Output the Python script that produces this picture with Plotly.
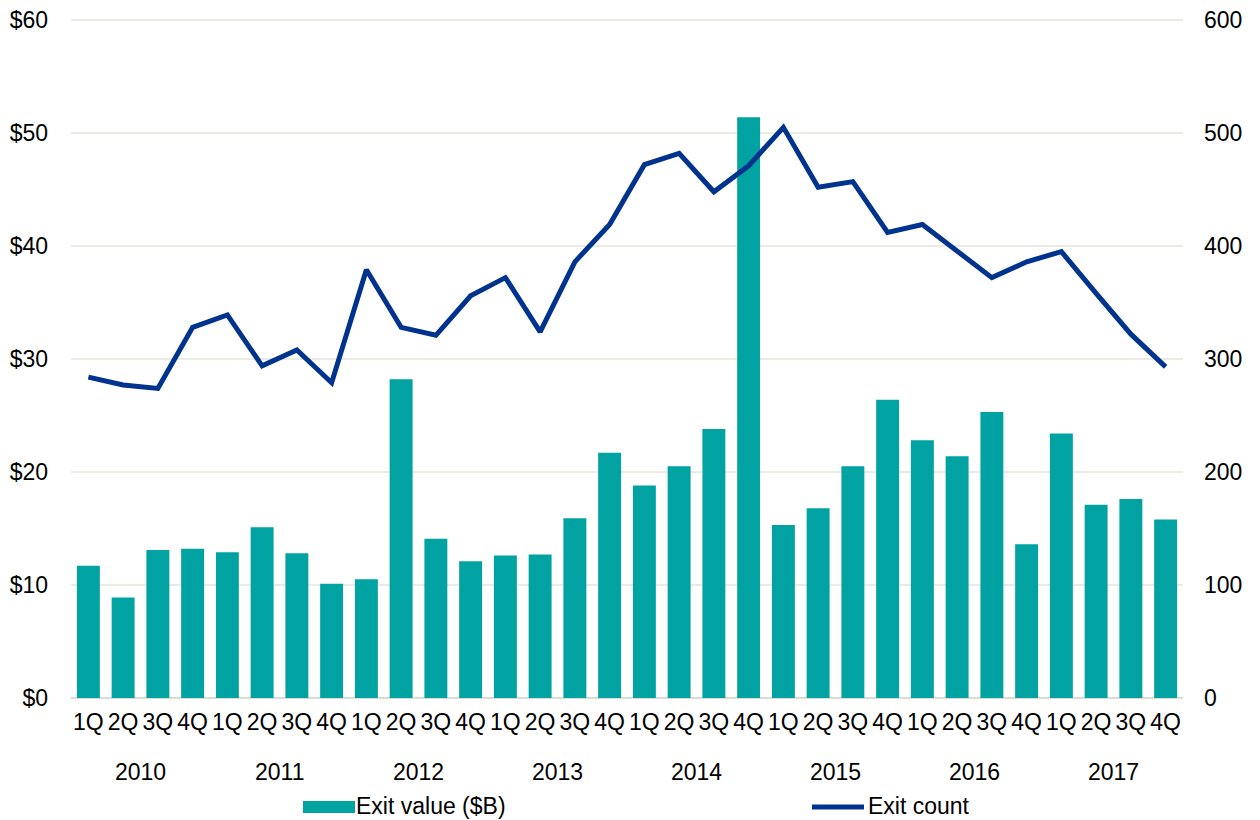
import plotly.graph_objects as go

quarters = ["1Q", "2Q", "3Q", "4Q"] * 8
years = ["2010", "2011", "2012", "2013", "2014", "2015", "2016", "2017"]

exit_value = [11.7, 8.9, 13.1, 13.2, 12.9, 15.1, 12.8, 10.1,
              10.5, 28.2, 14.1, 12.1, 12.6, 12.7, 15.9, 21.7,
              18.8, 20.5, 23.8, 51.4, 15.3, 16.8, 20.5, 26.4,
              22.8, 21.4, 25.3, 13.6, 23.4, 17.1, 17.6, 15.8]

exit_count = [284, 277, 274, 328, 339, 294, 308, 279,
              379, 328, 321, 356, 372, 324, 386, 419,
              472, 482, 448, 471, 505, 452, 457, 412,
              419, 396, 372, 386, 395, 358, 322, 293]

BAR_COLOR = "#00A3A1"
LINE_COLOR = "#00338D"

x = list(range(len(quarters)))

# page body has an 8px default margin; lay out in viewport pixels
OFF = 8
W, H = 1260, 820
PLOT_L, PLOT_R, PLOT_T, PLOT_B = 71, 1183, 19, 698   # viewport pixels
L = PLOT_L - OFF
T = PLOT_T - OFF
R = W - (PLOT_R - OFF)
B = H - (PLOT_B - OFF)
PW, PH = PLOT_R - PLOT_L, PLOT_B - PLOT_T


def px(xp):
    return (xp - PLOT_L) / PW


def py(yp):
    return (PLOT_B - yp) / PH


fig = go.Figure()
fig.add_trace(go.Bar(x=x, y=exit_value, name="Exit value ($B)",
                     marker=dict(color=BAR_COLOR, line=dict(width=0)),
                     yaxis="y", showlegend=False))
fig.add_trace(go.Scatter(x=x, y=exit_count, name="Exit count", mode="lines",
                         line=dict(color=LINE_COLOR, width=5),
                         yaxis="y2", showlegend=False))

font = dict(family="Liberation Sans, Arial, sans-serif", size=23, color="#000000")

annotations = []
for i, yr in enumerate(years):
    annotations.append(dict(x=i * 4 + 1.5, y=0, xref="x", yref="paper",
                            yshift=-74, text=yr, showarrow=False,
                            font=font, xanchor="center", yanchor="middle"))

# legend (drawn manually)
annotations.append(dict(x=px(354), y=py(806), xref="paper", yref="paper",
                        text="Exit value ($B)", showarrow=False, font=font,
                        xanchor="left", yanchor="middle"))
annotations.append(dict(x=px(866), y=py(806), xref="paper", yref="paper",
                        text="Exit count", showarrow=False, font=font,
                        xanchor="left", yanchor="middle"))
shapes = [
    dict(type="rect", xref="paper", yref="paper",
         x0=px(303), x1=px(355), y0=py(813), y1=py(801),
         fillcolor=BAR_COLOR, line=dict(width=0)),
    dict(type="line", xref="paper", yref="paper",
         x0=px(812), x1=px(864), y0=py(807), y1=py(807),
         line=dict(color=LINE_COLOR, width=5)),
]

fig.update_layout(
    width=W, height=H,
    margin=dict(l=L, r=R, t=T, b=B, autoexpand=False),
    plot_bgcolor="white", paper_bgcolor="white",
    font=font,
    bargap=0.34,
    showlegend=False,
    xaxis=dict(tickmode="array", tickvals=x, ticktext=quarters,
               range=[-0.5, len(x) - 0.5], showgrid=False, zeroline=False,
               showline=False, ticks="", ticklabelstandoff=8, tickfont=font,
               automargin=False, ticklabeloverflow="allow"),
    yaxis=dict(range=[0, 60.09], tickvals=[0, 10, 20, 30, 40, 50, 60],
               ticktext=["$0", "$10", "$20", "$30", "$40", "$50", "$60"],
               showgrid=True, gridcolor="#EBEBE6", gridwidth=1.5,
               zeroline=True, zerolinecolor="#DCDCD6", zerolinewidth=1.5,
               ticks="", ticklabelstandoff=22, tickfont=font, automargin=False,
               ticklabeloverflow="allow"),
    yaxis2=dict(range=[0, 600.9], tickvals=[0, 100, 200, 300, 400, 500, 600],
                overlaying="y", side="right", showgrid=False, zeroline=False,
                ticks="", ticklabelstandoff=20, tickfont=font, automargin=False,
                ticklabeloverflow="allow"),
    annotations=annotations,
    shapes=shapes,
)

fig.write_html("out.html")
